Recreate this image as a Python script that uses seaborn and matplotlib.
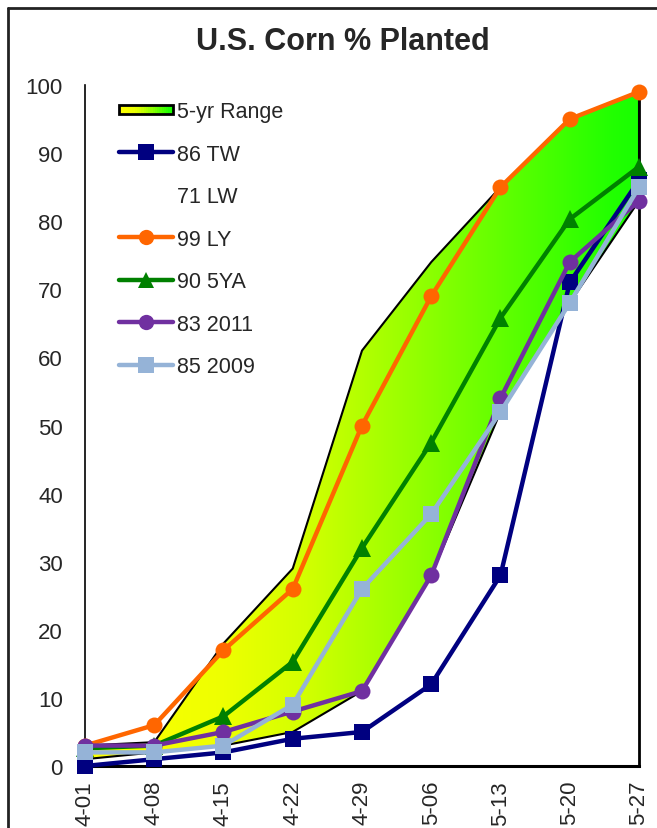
import numpy as np
import matplotlib
matplotlib.use("Agg")
import matplotlib.pyplot as plt
import seaborn as sns
from matplotlib.colors import LinearSegmentedColormap
from matplotlib.lines import Line2D
from matplotlib.patches import Rectangle, Polygon
from matplotlib.legend_handler import HandlerBase

# --- data ---
weeks = ['4-01', '4-08', '4-15', '4-22', '4-29', '5-06', '5-13', '5-20', '5-27']
tw = [0, 1, 2, 4, 5, 12, 28, 71, 86]
ly = [3, 6, 17, 26, 50, 69, 85, 95, 99]
avg5 = [2.6, 3, 7.3, 15.3, 32, 47.5, 65.8, 80.3, 88]
y2011 = [3, 3, 5, 8, 11, 28, 54, 74, 83]
y2009 = [2, 2, 3, 9, 26, 37, 52, 68, 85]
range_hi = [3, 3.5, 18, 29, 61, 74, 85, 95, 99]
range_lo = [1, 2, 3, 5, 11, 28, 52, 68, 83]

series = [
    ('86 TW', tw, '#000080', 's'),
    ('99 LY', ly, '#FF6600', 'o'),
    ('90 5YA', avg5, '#008000', '^'),
    ('83 2011', y2011, '#7030A0', 'o'),
    ('85 2009', y2009, '#95B3D7', 's'),
]

cmap = LinearSegmentedColormap.from_list(
    'range', [(0, '#FFFF00'), (0.25, '#EEFF00'), (0.4, '#D2FF00'),
              (0.56, '#A0FF00'), (0.72, '#6CFF00'), (0.95, '#22FF00'), (1, '#18FF00')])

sns.set_style("white")
plt.rcParams['font.family'] = ['Liberation Sans', 'DejaVu Sans']

fig = plt.figure(figsize=(6.57, 8.29), dpi=100)
ax = fig.add_axes([85 / 657, 1 - 767 / 829, (639 - 85) / 657, (767 - 86) / 829])
x = np.arange(len(weeks))

# 5-yr range band with horizontal gradient
poly_xy = np.column_stack([np.r_[x, x[::-1]], np.r_[range_hi, range_lo[::-1]]])
poly = Polygon(poly_xy, closed=True, facecolor='none', edgecolor='black', lw=1.5, zorder=2)
ax.add_patch(poly)
grad = np.linspace(0, 1, 256).reshape(1, -1)
im = ax.imshow(grad, cmap=cmap, extent=[0, len(weeks) - 1, 0, 100], aspect='auto',
               origin='lower', zorder=1)
im.set_clip_path(poly)

for name, vals, col, mk in series:
    sns.lineplot(x=x, y=vals, ax=ax, color=col, marker=mk, markersize=11.5 if mk != '^' else 12.5,
                 markeredgecolor=col, markeredgewidth=0, linewidth=3.2, zorder=3)
    ax.lines[-1].set_clip_on(False)

ax.set_xlim(0, len(weeks) - 1)
ax.set_ylim(0, 100)
ax.set_yticks(range(0, 101, 10))
ax.set_xticks(x)
ax.set_xticklabels(weeks, rotation=90)
ax.tick_params(axis='both', direction='out', length=7, width=1, color='gray', labelsize=16)
ax.tick_params(axis='y', pad=9)
ax.tick_params(axis='x', pad=3)
ax.spines['top'].set_visible(False)
ax.spines['left'].set_color('black')
ax.spines['left'].set_linewidth(1.2)
ax.spines['bottom'].set_color('black')
ax.spines['bottom'].set_linewidth(2.2)
ax.spines['right'].set_color('black')
ax.spines['right'].set_linewidth(2)
ax.spines['right'].set_bounds(0, 99)


class GradientHandler(HandlerBase):
    def create_artists(self, legend, orig_handle, xdescent, ydescent, width, height, fontsize, trans):
        arts = []
        n = 24
        h = height * 0.6
        y0 = -ydescent + (height - h) / 2
        for i in range(n):
            arts.append(Rectangle((-xdescent + width * i / n, y0), width / n + 0.3, h,
                                  facecolor=cmap(i / (n - 1)), edgecolor='none', transform=trans))
        arts.append(Rectangle((-xdescent, y0), width, h, facecolor='none',
                              edgecolor='black', lw=2, transform=trans))
        return arts


range_handle = Rectangle((0, 0), 1, 1)
handles = [range_handle]
labels = ['5-yr Range']
for name, vals, col, mk in series:
    handles.append(Line2D([], [], color=col, lw=3.2, marker=mk, ms=11, mew=0))
    labels.append(name)
    if name == '86 TW':
        handles.append(Line2D([], [], linestyle='none', marker=None))
        labels.append('71 LW')

fig.legend(handles, labels, loc='upper left', bbox_to_anchor=(119 / 657, 1 - 102 / 829),
           frameon=False, fontsize=15.5, handlelength=2.5, handletextpad=0.2,
           labelspacing=1.0, borderpad=0, borderaxespad=0, numpoints=1,
           handler_map={range_handle: GradientHandler()})

fig.text(343 / 657, 1 - 42 / 829, 'U.S. Corn % Planted', ha='center', va='center',
         fontsize=22, fontweight='bold')

# outer chart frame (left and top edges visible in the crop)
fig.add_artist(Line2D([8 / 657, 8 / 657], [0, 1 - 9 / 829], transform=fig.transFigure,
                      color='#222222', lw=2))
fig.add_artist(Line2D([8 / 657, 1], [1 - 9 / 829, 1 - 9 / 829], transform=fig.transFigure,
                      color='#222222', lw=2))

fig.savefig('out.png', dpi=100)
